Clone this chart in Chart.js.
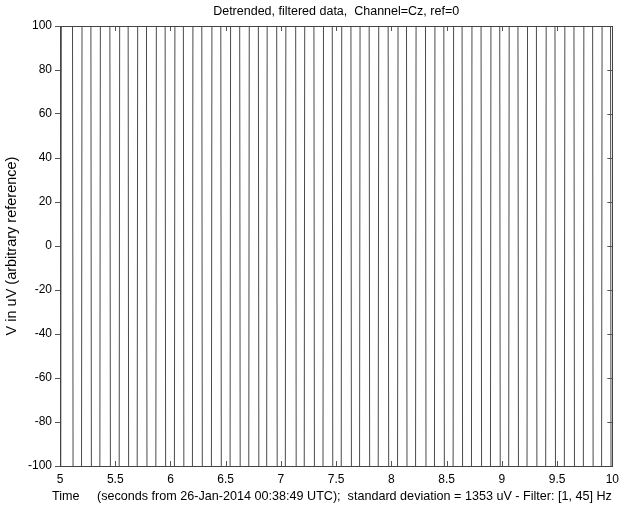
<!DOCTYPE html>
<html>
<head>
<meta charset="utf-8">
<title>Detrended, filtered data</title>
<script src="https://cdn.jsdelivr.net/npm/chart.js@4.4.1/dist/chart.umd.min.js"></script>
<style>
  html, body { margin: 0; padding: 0; background: #fff; }
  #eeg { display: block; }
</style>
</head>
<body>
<canvas id="eeg" width="625" height="509"></canvas>
<script>
// times (s) where the trace passes through 0 uV
const crossTimes = [
    5.009, 5.116, 5.197, 5.282, 5.363, 5.454, 5.538, 5.619, 5.701, 5.785,
    5.870, 5.954, 6.038, 6.119, 6.201, 6.286, 6.373, 6.458, 6.542, 6.629,
    6.711, 6.798, 6.873, 6.964, 7.042, 7.136, 7.213, 7.301, 7.383, 7.467,
    7.548, 7.636, 7.714, 7.801, 7.883, 7.973, 8.058, 8.139, 8.221, 8.311,
    8.392, 8.477, 8.561, 8.642, 8.727, 8.814, 8.899, 8.983, 9.064, 9.148,
    9.230, 9.315, 9.399, 9.483, 9.568, 9.655, 9.740, 9.824, 9.905, 9.986
];
// off-scale swing of the signal (std 1353 uV)
const peakUV = 1900;

const xTicks = [5, 5.5, 6, 6.5, 7, 7.5, 8, 8.5, 9, 9.5, 10];
const yTicks = [-100, -80, -60, -40, -20, 0, 20, 40, 60, 80, 100];

const titleText = 'Detrended, filtered data,  Channel=Cz, ref=0';
const xLabel = 'Time     (seconds from 26-Jan-2014 00:38:49 UTC);  standard deviation = 1353 uV - Filter: [1, 45] Hz';
const yLabel = 'V in uV (arbitrary reference)';

const FAMILY = '"Liberation Sans", Arial, Helvetica, sans-serif';
const tickFont = { family: FAMILY, size: 12 };

// build the trace: zero crossings with the off-scale peaks between them
const points = [];
let sign = -1;
points.push({ x: crossTimes[0] - 0.04, y: sign * peakUV });
crossTimes.forEach(function(t, i) {
    points.push({ x: t, y: 0 });
    sign = -sign;
    const next = i < crossTimes.length - 1 ? crossTimes[i + 1] : t + 0.08;
    points.push({ x: (t + next) / 2, y: sign * peakUV });
});

// matlab style box with inward ticks, title and x label
const boxPlugin = {
    id: 'boxPlugin',
    afterDatasetsDraw: function(chart) {
        const ctx = chart.ctx;
        const a = chart.chartArea;
        const xs = chart.scales.x;
        const ys = chart.scales.y;
        const len = 5;
        ctx.save();
        ctx.strokeStyle = '#555';
        ctx.lineWidth = 1;
        ctx.beginPath();
        xTicks.forEach(function(v) {
            const px = Math.round(xs.getPixelForValue(v)) + 0.5;
            ctx.moveTo(px, a.top);
            ctx.lineTo(px, a.top + len);
            ctx.moveTo(px, a.bottom);
            ctx.lineTo(px, a.bottom - len);
        });
        yTicks.forEach(function(v) {
            const py = Math.round(ys.getPixelForValue(v)) + 0.5;
            ctx.moveTo(a.right, py);
            ctx.lineTo(a.right - len, py);
        });
        ctx.stroke();
        ctx.strokeStyle = '#444';
        ctx.strokeRect(Math.round(a.left) + 0.5, Math.round(a.top) + 0.5,
            Math.round(a.right - a.left), Math.round(a.bottom - a.top));

        ctx.fillStyle = '#000';
        ctx.textBaseline = 'middle';
        ctx.font = '12.5px ' + FAMILY;
        ctx.textAlign = 'center';
        ctx.fillText(titleText, (a.left + a.right) / 2, 11.5);

        // x label runs from just left of the axis to its right end
        const x0 = a.left - 8;
        let size = 12.75;
        ctx.font = size + 'px ' + FAMILY;
        const w = ctx.measureText(xLabel).width;
        size = size * (a.right - x0) / w;
        ctx.font = size.toFixed(2) + 'px ' + FAMILY;
        ctx.textAlign = 'left';
        ctx.fillText(xLabel, x0, 497);
        ctx.restore();
    }
};

new Chart(document.getElementById('eeg'), {
    type: 'line',
    data: {
        datasets: [{
            data: points,
            borderColor: '#4a4a4a',
            borderWidth: 1,
            pointRadius: 0,
            tension: 0,
            fill: false
        }]
    },
    options: {
        responsive: false,
        animation: false,
        devicePixelRatio: 1,
        layout: { padding: { left: 0, right: 12, top: 26, bottom: 0 } },
        plugins: {
            legend: { display: false },
            tooltip: { enabled: false },
            title: { display: false }
        },
        scales: {
            x: {
                type: 'linear',
                min: 5,
                max: 10,
                afterBuildTicks: function(scale) {
                    scale.ticks = xTicks.map(function(v) { return { value: v }; });
                },
                afterFit: function(scale) { scale.height = 43; },
                grid: { display: false, drawTicks: false },
                border: { display: false },
                ticks: {
                    color: '#000',
                    font: tickFont,
                    padding: 6,
                    maxRotation: 0,
                    callback: function(v) { return String(v); }
                },
                title: { display: false }
            },
            y: {
                type: 'linear',
                min: -100,
                max: 100,
                afterBuildTicks: function(scale) {
                    scale.ticks = yTicks.map(function(v) { return { value: v }; });
                },
                afterFit: function(scale) { scale.width = 60; },
                grid: { drawOnChartArea: false, drawTicks: true, tickLength: 5, color: '#555' },
                border: { display: false },
                ticks: { color: '#000', font: tickFont, padding: 3 },
                title: {
                    display: true,
                    text: yLabel,
                    color: '#000',
                    font: { family: FAMILY, size: 14.5 },
                    padding: { top: 3, bottom: 0 }
                }
            }
        }
    },
    plugins: [boxPlugin]
});
</script>
</body>
</html>
